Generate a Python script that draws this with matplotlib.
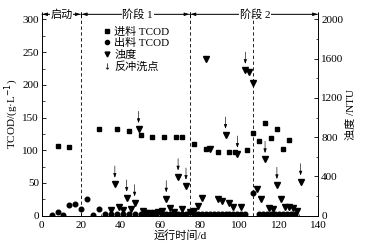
import numpy as np
import matplotlib.pyplot as plt
from matplotlib.lines import Line2D

plt.rcParams['font.family'] = ['Liberation Serif', 'Noto Sans CJK SC']
plt.rcParams['font.size'] = 8
plt.rcParams['axes.unicode_minus'] = False

# feed TCOD (g/L)
feed_day = [8, 14, 29, 38, 44, 50, 56, 62, 68, 71, 77, 83, 89, 95, 98, 104, 107, 110, 113, 116, 119, 122, 125]
feed_cod = [107, 105, 133, 132, 130, 124, 120, 121, 121, 120, 110, 102, 98, 97, 97, 101, 127, 114, 142, 119, 133, 102, 116]

# effluent TCOD (g/L)
eff_day = [5, 8, 11, 14, 17, 20, 23, 26, 29, 32, 35, 38, 41, 44, 47, 50, 52, 54, 56, 58, 61, 63, 65, 67, 69, 71, 73, 75,
           77, 79, 81, 83, 85, 87, 89, 91, 93, 95, 97, 99, 101, 103, 107, 110, 112, 114, 116, 118, 120, 122, 124, 126, 128]
eff_cod = [1.5, 6, 1, 16, 18, 10, 26, 1.5, 10, 2, 2, 3, 2, 3, 2, 3, 3, 2, 2, 2, 3, 2, 3, 2, 3, 2, 3, 5,
           3, 3, 3, 3, 3, 3, 3, 3, 3, 3, 3, 3, 3, 3, 34, 2, 2, 2, 2, 2, 2, 2, 2, 2, 2]

# turbidity (NTU)
tur_day = [35, 37, 39, 41, 43, 45, 47, 49, 51, 53, 55, 57, 59, 61, 63, 65, 67, 69, 71, 73, 75, 77, 79, 81,
           83, 85, 89, 91, 93, 95, 97, 99, 101, 103, 105, 107, 109, 111, 113, 115, 117, 119, 121, 123, 125, 127, 129, 131]
tur_ntu = [55, 322, 92, 55, 180, 65, 132, 880, 51, 30, 25, 25, 37, 50, 173, 75, 41, 397, 68, 302, 35, 45, 100, 183,
           1593, 680, 166, 153, 822, 126, 92, 628, 92, 1484, 1467, 1351, 272, 173, 574, 75, 65, 309, 173, 92, 92, 82, 51, 346]

# backwash points
bw_day = [37, 43, 47, 49, 63, 69, 73, 93, 99, 103, 113, 119, 131]

stage_edges = [0, 20, 75, 140]
stage_names = ['启动', '阶段 1', '阶段 2']
stage_text_x = [10, 48.5, 108]
extra_line = 107

fig = plt.figure(figsize=(3.66, 2.49), dpi=100)
ax = fig.add_axes([0.114, 0.134, 0.756, 0.814])
ax2 = ax.twinx()

ax.plot(feed_day, feed_cod, 's', color='k', ms=3.3)
ax.plot(eff_day, eff_cod, 'o', color='k', ms=3.3)
ax2.plot(tur_day, tur_ntu, 'v', color='k', ms=4.2)

for d in bw_day:
    v = tur_ntu[tur_day.index(d)]
    ax2.annotate('', xy=(d, v), xytext=(0, 13), textcoords='offset points',
                 arrowprops=dict(arrowstyle='-|>,head_length=0.5,head_width=0.18', lw=0.45,
                                 color='k', mutation_scale=5, shrinkA=0, shrinkB=4.5))

ax.set_xlim(0, 140)
ax.set_ylim(0, 310)
ax2.set_ylim(0, 310 * 2000 / 300)
ax.set_xticks(np.arange(0, 141, 20))
ax.set_yticks(np.arange(0, 301, 50))
ax2.set_yticks(np.arange(0, 2001, 400))
ax.set_yticks(np.arange(25, 300, 50), minor=True)
ax2.set_yticks(np.arange(200, 2000, 400), minor=True)
ax.set_xticks(np.arange(10, 140, 20), minor=True)

for a in (ax, ax2):
    a.tick_params(direction='in', length=3, width=0.6, labelsize=8, pad=2)
    a.tick_params(which='minor', direction='in', length=1.8, width=0.5)
    a.spines['top'].set_visible(False)
    for s in a.spines.values():
        s.set_linewidth(0.6)
ax.tick_params(axis='x', pad=4)

ax.set_xlabel('运行时间/d', fontsize=8, labelpad=0)
ax.set_ylabel('TCOD/(g·L$^{-1}$)', fontsize=8, labelpad=1)
ax2.set_ylabel('浊度 /NTU', fontsize=8, labelpad=2)

for x in stage_edges[1:3] + [extra_line]:
    ax.axvline(x, color='k', lw=0.6, ls=(0, (4, 3)))

top = ax.get_ylim()[1] - 2
for i in range(3):
    ax.annotate('', xy=(stage_edges[i], top), xytext=(stage_edges[i + 1], top),
                arrowprops=dict(arrowstyle='|-|,widthA=0.35,widthB=0.35', lw=0.5, color='k',
                                mutation_scale=5, shrinkA=0, shrinkB=0), annotation_clip=False)
    ax.annotate('', xy=(stage_edges[i], top), xytext=(stage_edges[i + 1], top),
                arrowprops=dict(arrowstyle='<|-|>,head_length=0.6,head_width=0.2', lw=0.5, color='k',
                                mutation_scale=5, shrinkA=0.5, shrinkB=0.5), annotation_clip=False)
    ax.text(stage_text_x[i], top, stage_names[i], ha='center', va='center', fontsize=8,
            bbox=dict(facecolor='white', edgecolor='none', pad=0.5), clip_on=False)

handles = [Line2D([], [], marker='s', ls='', color='k', ms=3),
           Line2D([], [], marker='o', ls='', color='k', ms=3),
           Line2D([], [], marker='v', ls='', color='k', ms=3.5),
           Line2D([], [], marker='$\\downarrow$', ls='', color='k', ms=4.5, mew=0)]
labels = ['进料 TCOD', '出料 TCOD', '浊度', '反冲洗点']
ax.legend(handles, labels, loc='upper left', bbox_to_anchor=(0.19, 0.97), frameon=False,
          handlelength=0.8, handletextpad=0.3, labelspacing=0.12, borderpad=0.2, fontsize=8)

fig.savefig('out.png', dpi=100)
